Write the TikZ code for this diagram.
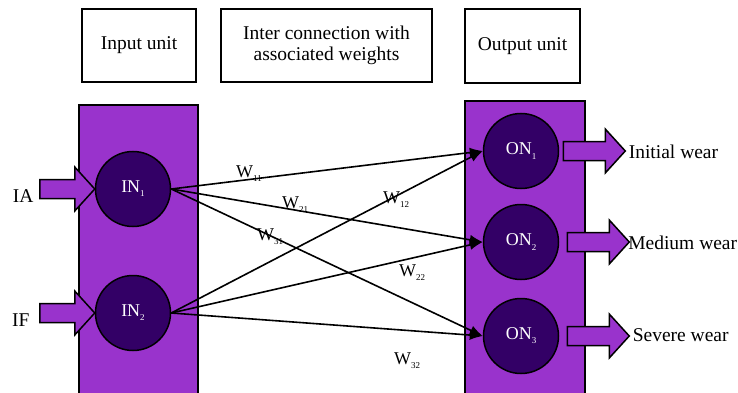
\documentclass[tikz,border=0pt]{standalone}
\usepackage{fontspec}
\setmainfont{Liberation Serif}
\usetikzlibrary{arrows.meta,calc}
\definecolor{unitpurple}{RGB}{153,51,204}
\definecolor{neurondark}{RGB}{51,0,102}
\newcommand\sub[1]{\raisebox{-0.5ex}{\fontsize{9}{9}\selectfont #1}}
% block arrow: tip coordinate, shaft length
\newcommand\fatarrow[2]{\draw[blockarrow] #1 -- ++(-20,-22) -- ++(0,12.5) -- ++(-#2,0) -- ++(0,19) -- ++(#2,0) -- ++(0,12.5) -- cycle;}
\begin{document}
\begin{tikzpicture}[x=1pt,y=-1pt,
    titlebox/.style={draw, line width=1.5pt, fill=white, align=center,
      font=\fontsize{19.5}{21}\selectfont},
    panel/.style={draw, line width=1.5pt, fill=unitpurple, inner sep=0},
    neuron/.style={circle, draw, line width=1.5pt, fill=neurondark, text=white,
      minimum size=75, inner sep=0, font=\fontsize{18}{18}\selectfont},
    blockarrow/.style={draw, line width=1.5pt, fill=unitpurple},
    conn/.style={line width=1.6pt, -{Latex[length=13pt,width=10pt]}},
    wlabel/.style={anchor=base west, inner sep=0, font=\fontsize{18}{18}\selectfont},
    sidelabel/.style={font=\fontsize{19.5}{21}\selectfont}]
  \clip (0,0) rectangle (738,393);
  % headings
  \node[titlebox, minimum width=114, minimum height=73] (intitle) at (139,45.5) {Input unit};
  \node[titlebox, minimum width=211, minimum height=73] (wtitle) at (326.5,45.5) {Inter connection with\\associated weights};
  \node[titlebox, minimum width=115, minimum height=74] (outtitle) at (522.5,46) {Output unit};
  % units
  \node[panel, minimum width=119, minimum height=295] (inpanel) at (138.5,252.5) {};
  \node[panel, minimum width=120, minimum height=299] (outpanel) at (525,250.5) {};
  \node[neuron] (IN1) at (133,189) {IN\sub{1}};
  \node[neuron] (IN2) at (133,313) {IN\sub{2}};
  \node[neuron] (ON1) at (521,151) {ON\sub{1}};
  \node[neuron] (ON2) at (521,242) {ON\sub{2}};
  \node[neuron] (ON3) at (521,336) {ON\sub{3}};
  % inputs
  \fatarrow{(IN1.west)}{35}
  \fatarrow{(IN2.west)}{35}
  \node[sidelabel, anchor=east] (ia) at (37,196) {IA};
  \node[sidelabel, anchor=east] (if) at (33,320) {IF};
  % outputs
  \fatarrow{($(ON1.east)+(66,0)$)}{42}
  \fatarrow{($(ON2.east)+(70,0)$)}{42}
  \fatarrow{($(ON3.east)+(70,0)$)}{42}
  \node[sidelabel, anchor=west] (initial) at ($(ON1.east)+(66,1)$) {Initial wear};
  \node[sidelabel, anchor=west] (medium) at ($(ON2.east)+(65.5,1)$) {Medium wear};
  \node[sidelabel, anchor=west] (severe) at ($(ON3.east)+(70,-1)$) {Severe wear};
  % weights
  \foreach \i in {1,2} {
    \foreach \j in {1,2,3} {
      \draw[conn] (IN\i.east) -- (ON\j.west);
    }
  }
  \node[wlabel] (w11) at (236,177) {W\sub{11}};
  \node[wlabel] (w21) at (282,208) {W\sub{21}};
  \node[wlabel] (w31) at (257,240) {W\sub{31}};
  \node[wlabel] (w12) at (383,203) {W\sub{12}};
  \node[wlabel] (w22) at (399,276) {W\sub{22}};
  \node[wlabel] (w32) at (394,364) {W\sub{32}};
\end{tikzpicture}
\end{document}
